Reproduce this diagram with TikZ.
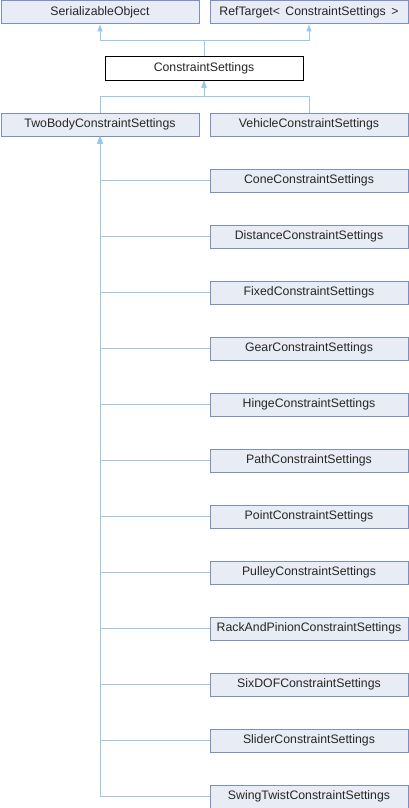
\documentclass[tikz,border=0pt]{standalone}
\usepackage{fontspec}
\setmainfont{Liberation Sans}
\usetikzlibrary{arrows.meta}
\definecolor{boxfill}{HTML}{E8ECF5}
\definecolor{boxline}{HTML}{7C8EC6}
\definecolor{edgecol}{HTML}{97C9EA}
\begin{document}
\begin{tikzpicture}[x=1pt,y=-1pt,
  cls/.style={draw=boxline, fill=boxfill, line width=1pt, minimum width=198pt, minimum height=23pt, inner sep=0pt, anchor=north west, font=\fontsize{12.3}{14}\selectfont, text=black!85},
  mainbox/.style={cls, draw=black, fill=white},
  inh/.style={draw=edgecol, line width=1pt, -{Triangle[width=5pt,length=7pt]}, rounded corners=0pt}]
\useasboundingbox (0,0) rectangle (408,808);
\node[cls] (ser) at (0.5,0.5) {SerializableObject};
\node[cls] (ref) at (209.5,0.5) {RefTarget<\ \,ConstraintSettings\ \,>};
\node[mainbox] (cs) at (104.5,56.5) {ConstraintSettings};
\node[cls] (two) at (0.5,112.5) {TwoBodyConstraintSettings};
\node[cls] (veh) at (209.5,112.5) {VehicleConstraintSettings};
\foreach \n/\t [count=\i from 0] in {cone/Cone,dist/Distance,fixed/Fixed,gear/Gear,hinge/Hinge,path/Path,point/Point,pulley/Pulley,rack/RackAndPinion,six/SixDOF,slider/Slider,swing/SwingTwist}{
  \node[cls] (\n) at (209.5,168.5+56*\i) {\t ConstraintSettings};
  \draw[inh] (\n.west) -| (two.south);
}
\draw[inh] (cs.north) -- ++(0,-16) -| (ser.south);
\draw[inh] (cs.north) -- ++(0,-16) -| (ref.south);
\draw[inh] (two.north) -- ++(0,-16) -| (cs.south);
\draw[inh] (veh.north) -- ++(0,-16) -| (cs.south);
\end{tikzpicture}
\end{document}
